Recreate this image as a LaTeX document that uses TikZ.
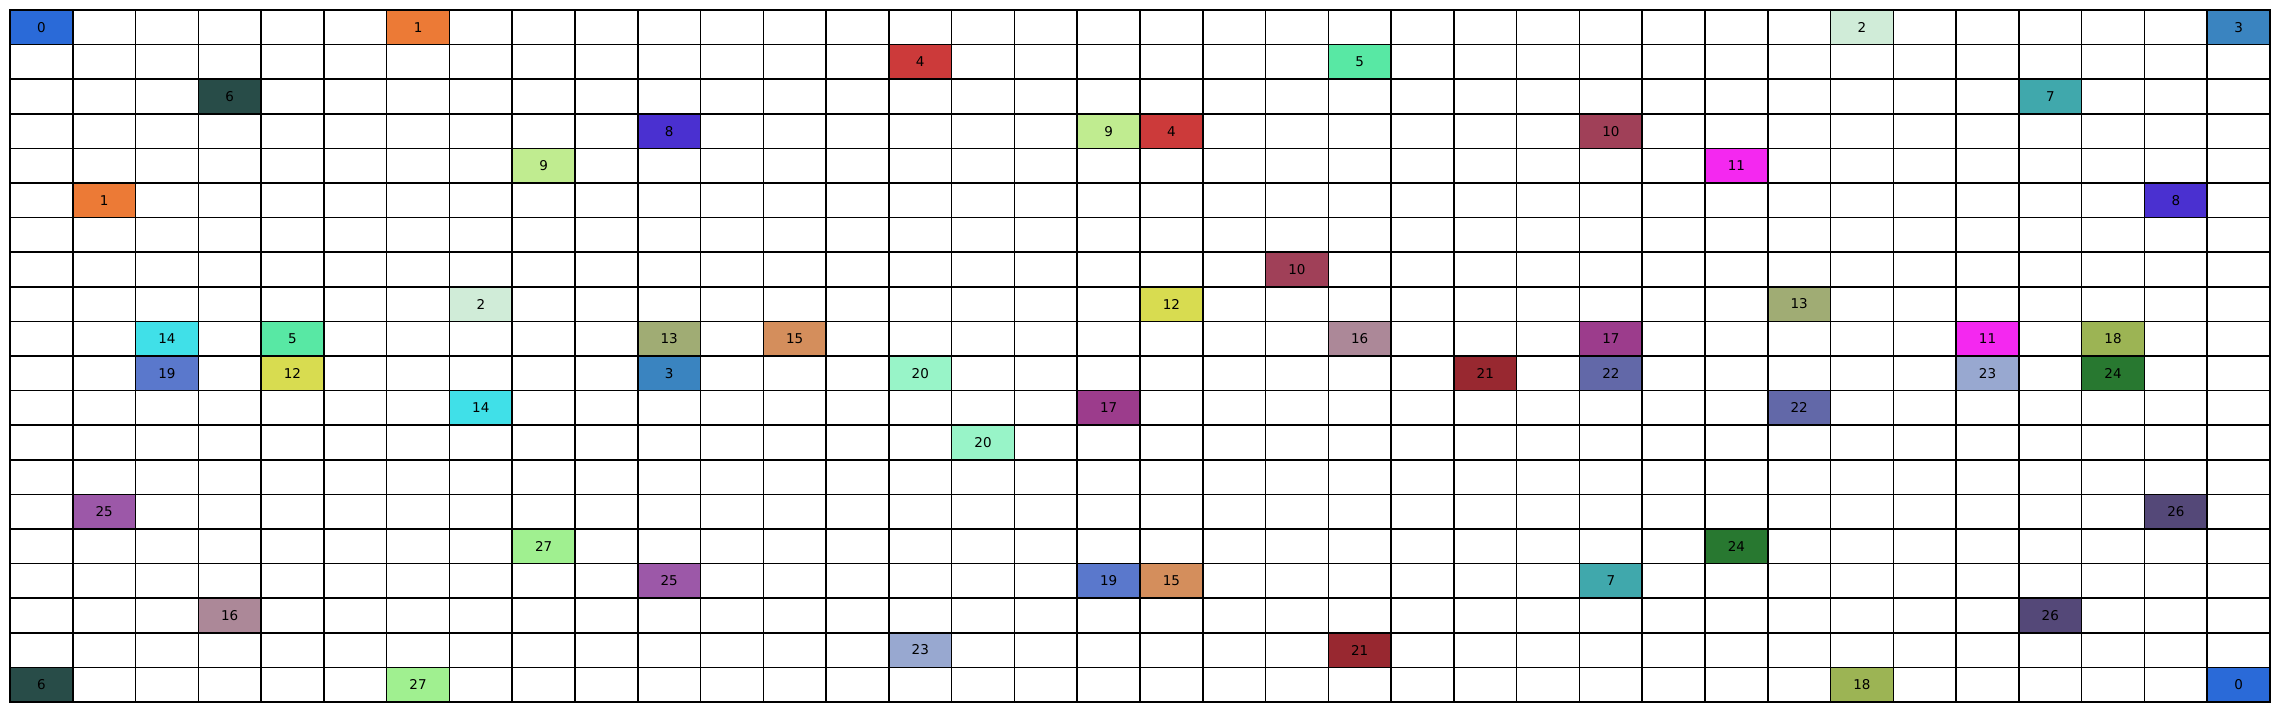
\documentclass[tikz,border=0pt]{standalone}
\usepackage{fontspec}
\setmainfont{DejaVu Sans}
\usepackage{xcolor}
\usepackage{tikz}

% tile colours
\definecolor{c0}{HTML}{2A6AD8}
\definecolor{c1}{HTML}{EC7A36}
\definecolor{c2}{HTML}{D0ECD8}
\definecolor{c3}{HTML}{3A84C0}
\definecolor{c4}{HTML}{CC3A3A}
\definecolor{c5}{HTML}{58E8A4}
\definecolor{c6}{HTML}{284C48}
\definecolor{c7}{HTML}{40A8AC}
\definecolor{c8}{HTML}{4A30D0}
\definecolor{c9}{HTML}{C0EC90}
\definecolor{c10}{HTML}{A04058}
\definecolor{c11}{HTML}{F428F0}
\definecolor{c12}{HTML}{D8DC50}
\definecolor{c13}{HTML}{A0AC74}
\definecolor{c14}{HTML}{40E0E8}
\definecolor{c15}{HTML}{D48E5C}
\definecolor{c16}{HTML}{AC8898}
\definecolor{c17}{HTML}{9C3C8C}
\definecolor{c18}{HTML}{9CB454}
\definecolor{c19}{HTML}{5A78CC}
\definecolor{c20}{HTML}{98F4C8}
\definecolor{c21}{HTML}{982830}
\definecolor{c22}{HTML}{6268A8}
\definecolor{c23}{HTML}{98A8D0}
\definecolor{c24}{HTML}{287830}
\definecolor{c25}{HTML}{9C58A8}
\definecolor{c26}{HTML}{544878}
\definecolor{c27}{HTML}{A0F090}

\begin{document}
\begin{tikzpicture}[
    x=62.78pt, y=34.6pt,
    every node/.style={font=\fontsize{13.5}{16}\selectfont},
    gridline/.style={draw=black, line width=1.5pt},
    tile/.style={rectangle, draw=black, line width=1.5pt, minimum width=62.78pt, minimum height=34.6pt, inner sep=0pt}
]
\useasboundingbox (-10pt,-10pt) rectangle ([xshift=9pt,yshift=10pt]36,20);

% Grid
\foreach \c in {0,...,36}
  \draw[gridline] (\c,0) -- (\c,20);
\foreach \r in {0,...,20}
  \draw[gridline] (0,\r) -- (36,\r);

% Tiles: label/column/row (row 0 at the top)
\foreach \n/\c/\r in {0/0/0, 1/6/0, 2/29/0, 3/35/0,
    4/14/1, 5/21/1,
    6/3/2, 7/32/2,
    8/10/3, 9/17/3, 4/18/3, 10/25/3,
    9/8/4, 11/27/4,
    1/1/5, 8/34/5,
    10/20/7,
    2/7/8, 12/18/8, 13/28/8,
    14/2/9, 5/4/9, 13/10/9, 15/12/9, 16/21/9, 17/25/9, 11/31/9, 18/33/9,
    19/2/10, 12/4/10, 3/10/10, 20/14/10, 21/23/10, 22/25/10, 23/31/10, 24/33/10,
    14/7/11, 17/17/11, 22/28/11,
    20/15/12,
    25/1/14, 26/34/14,
    27/8/15, 24/27/15,
    25/10/16, 19/17/16, 15/18/16, 7/25/16,
    16/3/17, 26/32/17,
    23/14/18, 21/21/18,
    6/0/19, 27/6/19, 18/29/19, 0/35/19}
  \node[tile, fill=c\n] (tile-\c-\r) at (\c+0.5,19.5-\r) {\n};

\end{tikzpicture}
\end{document}
